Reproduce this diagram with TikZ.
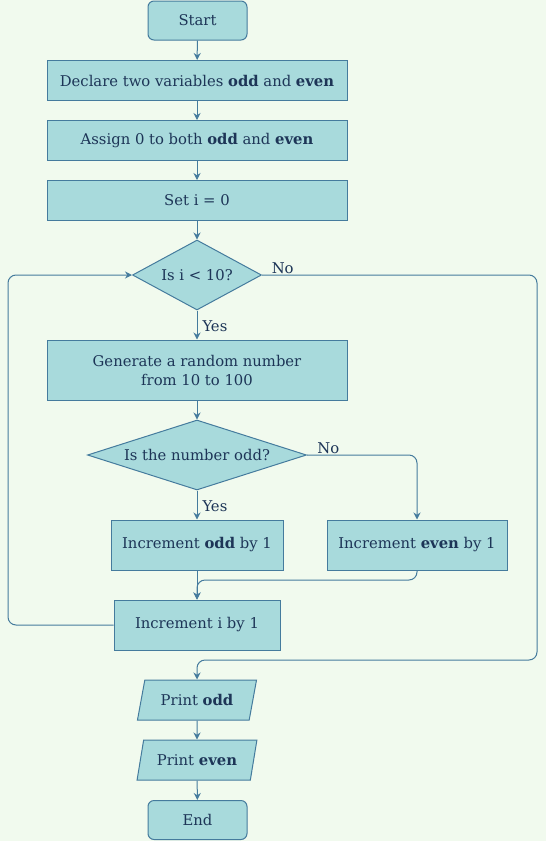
\documentclass[tikz,border=0pt]{standalone}
\usepackage{fontspec}
\setmainfont{DejaVu Serif}
\usetikzlibrary{shapes.geometric,arrows.meta}
\definecolor{bg}{HTML}{F1FAEE}
\definecolor{boxfill}{HTML}{A8DADC}
\definecolor{edge}{HTML}{457B9D}
\definecolor{ink}{HTML}{1D3557}
\begin{document}
\begin{tikzpicture}[x=1pt,y=-1pt,
  font=\fontsize{14.8}{19}\selectfont,
  base/.style={draw=edge, fill=boxfill, text=ink, line width=1pt, inner sep=2pt},
  proc/.style={base, rectangle, minimum height=#1},
  proc/.default=40,
  term/.style={base, rectangle, rounded corners=6pt, minimum width=99, minimum height=39},
  decision/.style={base, diamond, aspect=1.84, inner sep=0pt},
  io/.style={base, trapezium, trapezium left angle=66, trapezium right angle=114, trapezium stretches=true, minimum width=120, minimum height=40, inner sep=0pt},
  flow/.style={draw=edge, line width=1pt, -{Stealth[length=7pt,width=7pt]}, rounded corners=8pt},
  lbl/.style={text=ink, inner sep=1pt}
]
\fill[bg] (0,0) rectangle (546,841);
\useasboundingbox (0,0) rectangle (546,841);

\node[term] (start) at (197.5,20.5) {Start};
\node[proc, minimum width=300] (declare) at (197,80.5) {Declare two variables \textbf{odd} and \textbf{even}};
\node[proc, minimum width=300] (assign) at (197,140.5) {Assign 0 to both \textbf{odd} and \textbf{even}};
\node[proc, minimum width=300] (seti) at (197,200.5) {Set i = 0};
\node[decision, minimum width=129, minimum height=70] (cond) at (197,275) {Is i < 10?};
\node[proc=60, minimum width=300, align=center] (gen) at (197,370) {Generate a random number\\from 10 to 100};
\node[decision, minimum width=219, minimum height=70, aspect=3.1] (odd) at (197,455) {Is the number odd?};
\node[proc=50, minimum width=172] (incodd) at (197,545) {Increment \textbf{odd} by 1};
\node[proc=50, minimum width=180] (inceven) at (417,545) {Increment \textbf{even} by 1};
\node[proc=50, minimum width=166] (inci) at (197,625) {Increment i by 1};
\node[io] (podd) at (197,700) {Print \textbf{odd}};
\node[io] (peven) at (197,760) {Print \textbf{even}};
\node[term] (end) at (197.5,820) {End};

\coordinate (noright) at (537,275);
\coordinate (nodown) at (537,660);
\coordinate (nojoin) at (197,660);
\coordinate (loopL) at (8,625);
\coordinate (loopT) at (8,275);
\coordinate (oddR) at (417,455);
\coordinate (evenB) at (417,580);
\coordinate (evenJ) at (197,580);

\draw[flow] (start) -- (declare);
\draw[flow] (declare) -- (assign);
\draw[flow] (assign) -- (seti);
\draw[flow] (seti) -- (cond);
\draw[flow] (cond.south) -- node[lbl, right, pos=0.55, xshift=4pt] {Yes} (gen.north);
\draw[flow] (cond.east) -- node[lbl, pos=0.03, anchor=south west] {No} (noright) -- (nodown) -- (nojoin) -- (podd.north);
\draw[flow] (gen) -- (odd);
\draw[flow] (odd.south) -- node[lbl, right, pos=0.55, xshift=4pt] {Yes} (incodd.north);
\draw[flow] (odd.east) -- node[lbl, pos=0.08, anchor=south west] {No} (oddR) -- (inceven.north);
\draw[flow] (incodd.south) -- (inci.north);
\draw[flow] (inceven.south) -- (evenB) -- (evenJ) -- (inci.north);
\draw[flow] (inci.west) -- (loopL) -- (loopT) -- (cond.west);
\draw[flow] (podd) -- (peven);
\draw[flow] (peven) -- (end);
\end{tikzpicture}
\end{document}
